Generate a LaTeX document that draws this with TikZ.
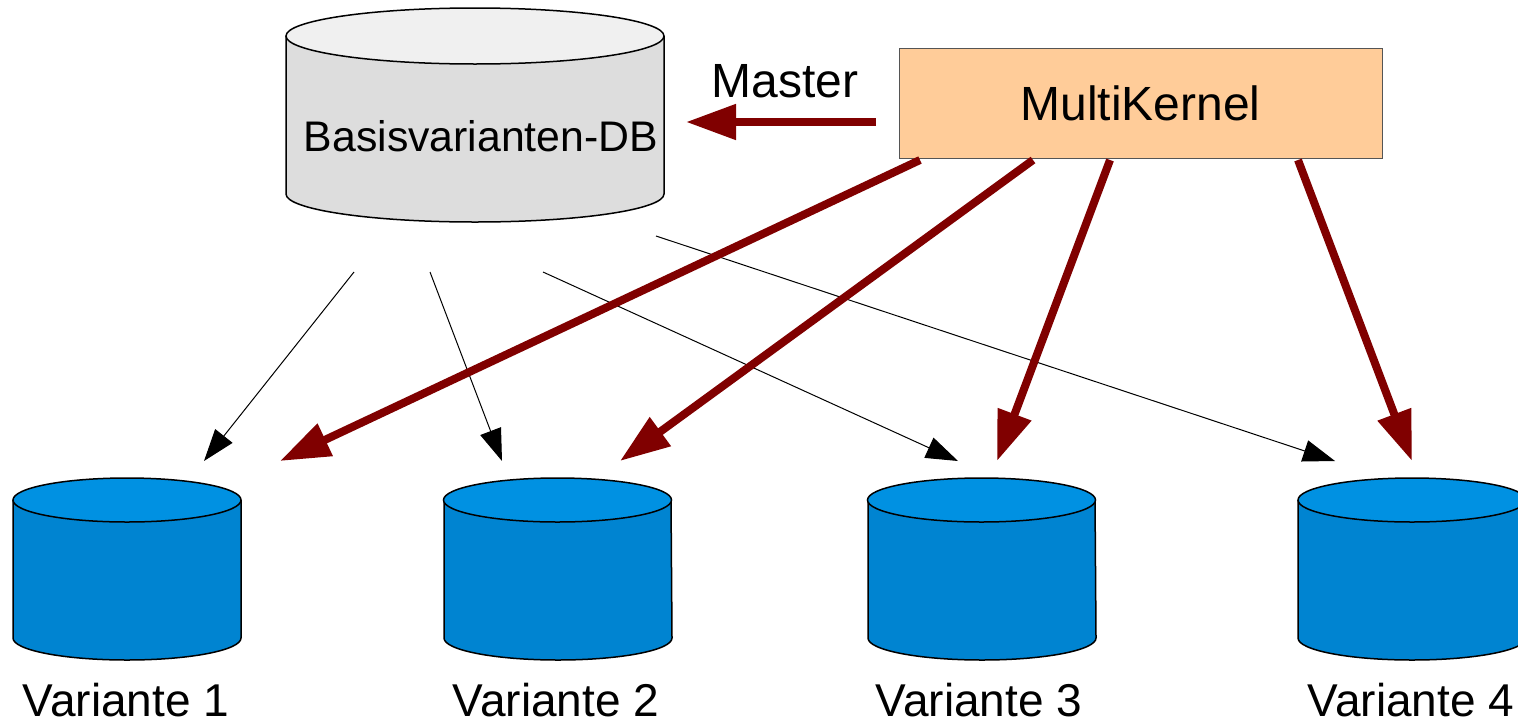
\documentclass[tikz,border=0pt]{standalone}
\usepackage{fontspec}
\setmainfont{Liberation Sans}
\usetikzlibrary{arrows.meta}
\definecolor{dbred}{RGB}{128,0,0}
\definecolor{grayend}{RGB}{240,240,240}
\definecolor{graybody}{RGB}{221,221,221}
\definecolor{blueend}{RGB}{0,145,226}
\definecolor{bluebody}{RGB}{0,132,209}
\definecolor{peach}{RGB}{255,204,153}
\tikzset{
  redarrow/.style={draw=dbred, line width=4pt, -{Triangle[length=25pt,width=17pt]}},
  thinarrow/.style={draw=black, line width=0.5pt, -{Triangle[length=16pt,width=11pt]}},
  lbl/.style={font=\fontsize{23pt}{27pt}\selectfont, inner sep=0pt, anchor=base},
  cylline/.style={draw=black, line width=0.75pt},
}
\newcommand\mycyl[7]{% cx, left, right, ctop, cbot, rx(pt), ry(pt)
  \fill[\cylbody] (#2,#4) -- (#2,#5) arc[start angle=180,end angle=360,x radius=#6,y radius=#7] -- (#3,#4) -- cycle;
  \draw[cylline] (#2,#4) -- (#2,#5) arc[start angle=180,end angle=360,x radius=#6,y radius=#7] -- (#3,#4);
  \draw[cylline, fill=\cylend] (#1,#4) ellipse[x radius=#6, y radius=#7];
}
\begin{document}
\begin{tikzpicture}[x=0.5pt,y=-0.5pt]
\useasboundingbox (0,0) rectangle (1518,723);
% grey cylinder
\def\cylbody{graybody}\def\cylend{grayend}
\mycyl{475}{286}{664}{36}{194}{94.5pt}{14pt}
\node[lbl, font=\fontsize{21.4pt}{25pt}\selectfont] (basis) at (481,151) {Basisvarianten-DB};
% blue cylinders
\def\cylbody{bluebody}\def\cylend{blueend}
\mycyl{127}{13}{241}{500}{638}{57pt}{11pt}
\mycyl{557.5}{444}{671}{500}{638}{57pt}{11pt}
\mycyl{981.5}{868}{1095}{500}{638}{57pt}{11pt}
\mycyl{1412}{1298}{1526}{500}{638}{57pt}{11pt}
\node[lbl] (v1) at (126,716) {Variante 1};
\node[lbl] (v2) at (556,716) {Variante 2};
\node[lbl] (v3) at (979,716) {Variante 3};
\node[lbl] (v4) at (1411,716) {Variante 4};
% MultiKernel
\node[draw={rgb,255:red,85;green,85;blue,85}, line width=0.5pt, fill=peach, minimum width=241.5pt, minimum height=55pt, inner sep=0pt, font=\fontsize{24pt}{28pt}\selectfont] (mk) at (1140.5,103) {MultiKernel};
\node[lbl, font=\fontsize{24pt}{28pt}\selectfont] (master) at (785,97) {Master};
% coordinates
\coordinate (mkm) at (876,122);
\coordinate (bm) at (686,122);
\coordinate (mk1) at (920,160);
\coordinate (mk2) at (1033,160);
\coordinate (mk3) at (1110,160);
\coordinate (mk4) at (1298,160);
\coordinate (r1) at (280,461);
\coordinate (r2) at (620,461);
\coordinate (r3) at (997,461);
\coordinate (r4) at (1412,461);
\coordinate (b1) at (354,272);
\coordinate (b2) at (430,272);
\coordinate (b3) at (543,272);
\coordinate (b4) at (656,236);
\coordinate (t1) at (204,461);
\coordinate (t2) at (502,461);
\coordinate (t3) at (958,461);
\coordinate (t4) at (1335,461);
% thin arrows
\draw[thinarrow] (b1) -- (t1);
\draw[thinarrow] (b2) -- (t2);
\draw[thinarrow] (b3) -- (t3);
\draw[thinarrow] (b4) -- (t4);
% red arrows
\draw[redarrow] (mkm) -- (bm);
\draw[redarrow] (mk1) -- (r1);
\draw[redarrow] (mk2) -- (r2);
\draw[redarrow] (mk3) -- (r3);
\draw[redarrow] (mk4) -- (r4);
\end{tikzpicture}
\end{document}
